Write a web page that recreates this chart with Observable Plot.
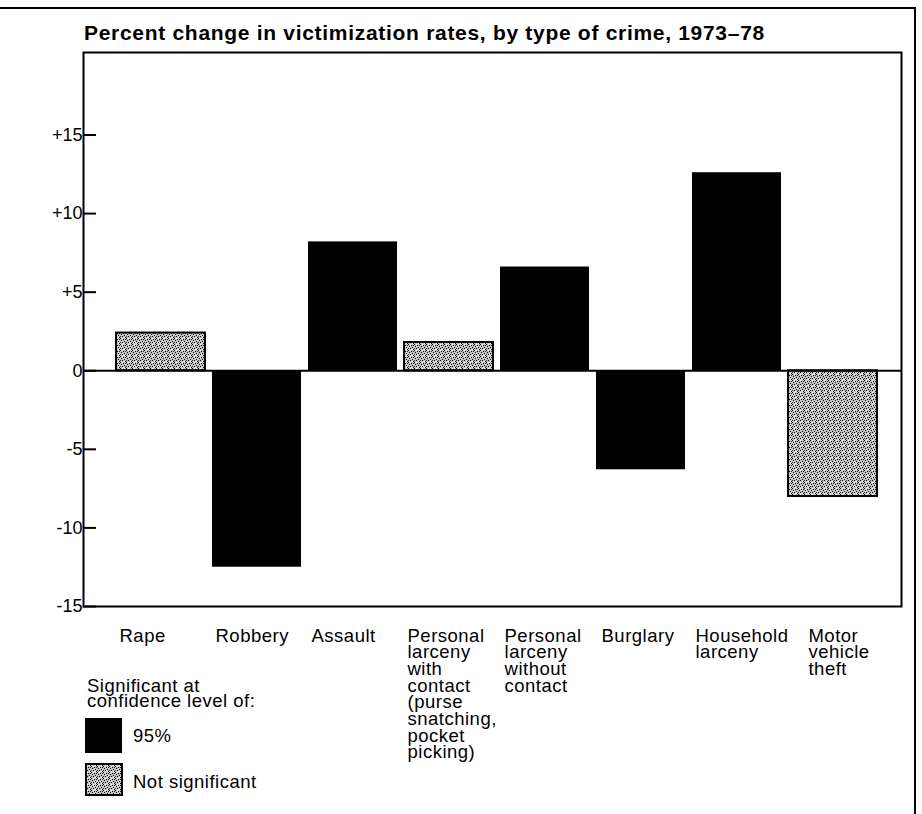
<!DOCTYPE html>
<html>
<head>
<meta charset="utf-8">
<script src="https://cdn.jsdelivr.net/npm/d3@7"></script>
<script src="https://cdn.jsdelivr.net/npm/@observablehq/plot@0.6"></script>
<style>
  body { margin: 0; background: #fff; font-family: "Liberation Sans", Arial, sans-serif; color: #000; }
  #wrap { position: relative; width: 922px; height: 814px; overflow: hidden; background: #fff; }
  #border { position: absolute; left: -4px; top: 7px; width: 918px; height: 900px; border-top: 2px solid #000; border-right: 2px solid #000; pointer-events: none; }
  #title { position: relative; height: 44px; }
  #title span { position: absolute; left: 84px; top: 22px; font-weight: bold; font-size: 21px; line-height: 21px; letter-spacing: 0.7px; white-space: nowrap; }
  .lg { position: absolute; font-size: 18.5px; line-height: 16px; letter-spacing: 0.5px; white-space: nowrap; }
  #defs { position: absolute; width: 0; height: 0; }
  #chart g[aria-label="text"] { letter-spacing: 0.5px; }
</style>
</head>
<body>
<div id="wrap">
  <svg id="defs" width="0" height="0">
    <defs>
      <pattern id="stipple" patternUnits="userSpaceOnUse" width="6" height="6">
        <rect width="6" height="6" fill="#c4c4c4"/>
        <rect x="0" y="0" width="1" height="1" fill="#000"/>
        <rect x="3" y="1" width="1" height="1" fill="#000"/>
        <rect x="5" y="1" width="1" height="1" fill="#222"/>
        <rect x="1" y="2" width="1" height="1" fill="#000"/>
        <rect x="4" y="3" width="1" height="1" fill="#000"/>
        <rect x="2" y="4" width="1" height="1" fill="#000"/>
        <rect x="5" y="5" width="1" height="1" fill="#000"/>
        <rect x="0" y="4" width="1" height="1" fill="#333"/>
        <rect x="2" y="0" width="1" height="1" fill="#fff"/>
        <rect x="4" y="5" width="1" height="1" fill="#fff"/>
      </pattern>
    </defs>
  </svg>
  <div id="border"></div>
  <div id="title"><span>Percent change in victimization rates, by type of crime, 1973–78</span></div>
  <div id="chart"></div>
  <div class="lg" style="left:87px;top:678px;">Significant at</div>
  <div class="lg" style="left:87px;top:693px;">confidence level of:</div>
  <svg style="position:absolute;left:85px;top:718px;" width="38" height="80">
    <rect x="0" y="0" width="37" height="35" fill="#000"/>
    <rect x="1" y="46" width="36" height="31" fill="url(#stipple)" stroke="#000" stroke-width="2"/>
  </svg>
  <div class="lg" style="left:133px;top:728px;">95%</div>
  <div class="lg" style="left:133px;top:774px;">Not significant</div>
</div>
<script>
const crimes = [
  "Rape",
  "Robbery",
  "Assault",
  "Personal larceny with contact",
  "Personal larceny without contact",
  "Burglary",
  "Household larceny",
  "Motor vehicle theft"
];
const xLabels = [
  "Rape",
  "Robbery",
  "Assault",
  "Personal\nlarceny\nwith\ncontact\n(purse\nsnatching,\npocket\npicking)",
  "Personal\nlarceny\nwithout\ncontact",
  "Burglary",
  "Household\nlarceny",
  "Motor\nvehicle\ntheft"
];
const values = [2.4, -12.5, 8.2, 1.8, 6.6, -6.3, 12.6, -8.0];
const significance = ["Not significant", "95%", "95%", "Not significant", "95%", "95%", "95%", "Not significant"];
const yTicks = [15, 10, 5, 0, -5, -10, -15];
const yTickLabels = ["+15", "+10", "+5", "0", "-5", "-10", "-15"];

const rows = crimes.map((c, i) => ({crime: c, value: values[i], sig: significance[i], label: xLabels[i]}));

const chart = Plot.plot({
  width: 922,
  height: 770,
  marginTop: 8,
  marginBottom: 208,
  marginLeft: 83,
  marginRight: 21,
  style: {fontFamily: '"Liberation Sans", Arial, sans-serif', fontSize: "18px", color: "#000", background: "#fff", overflow: "visible"},
  x: {domain: crimes, axis: null, paddingInner: 0.075, paddingOuter: 0.265, align: 0.58},
  y: {domain: [-15, 20.25], axis: null},
  marks: [
    Plot.barY(rows.filter(d => d.sig === "95%"), {x: "crime", y: "value", fill: "#000"}),
    Plot.barY(rows.filter(d => d.sig !== "95%"), {x: "crime", y: "value", fill: "url(#stipple)", stroke: "#000", strokeWidth: 2}),
    Plot.ruleY([0], {stroke: "#000", strokeWidth: 2}),
    Plot.tickY(yTicks, {stroke: "#000", strokeWidth: 2, insetRight: 805}),
    Plot.axisY({ticks: yTicks, tickFormat: d => yTickLabels[yTicks.indexOf(d)], tickSize: 0, tickPadding: 1, fontSize: 18, label: null}),
    Plot.text(rows, {x: "crime", text: "label", frameAnchor: "bottom", dy: 23.5, dx: -41.5, textAnchor: "start", lineAnchor: "top", lineHeight: 0.9, fontSize: 18.5, fill: "#000"}),
    Plot.frame({stroke: "#000", strokeWidth: 2})
  ]
});
document.getElementById("chart").appendChild(chart);

// keep neighbouring category labels apart, line by line
const labelGroup = chart.querySelector('g[aria-label="text"]');
if (labelGroup) {
  const texts = Array.from(labelGroup.querySelectorAll("text"));
  let prevRights = [];
  for (const t of texts) {
    const lines = Array.from(t.querySelectorAll("tspan"));
    const parts = lines.length ? lines : [t];
    const rects = parts.map(p => p.getBoundingClientRect());
    let shift = 0;
    rects.forEach((r, k) => {
      if (k < prevRights.length) shift = Math.max(shift, prevRights[k] + 20 - r.left);
    });
    if (shift > 0) t.setAttribute("transform", (t.getAttribute("transform") || "") + ` translate(${shift},0)`);
    prevRights = rects.map(r => r.right + shift);
  }
}
</script>
</body>
</html>
